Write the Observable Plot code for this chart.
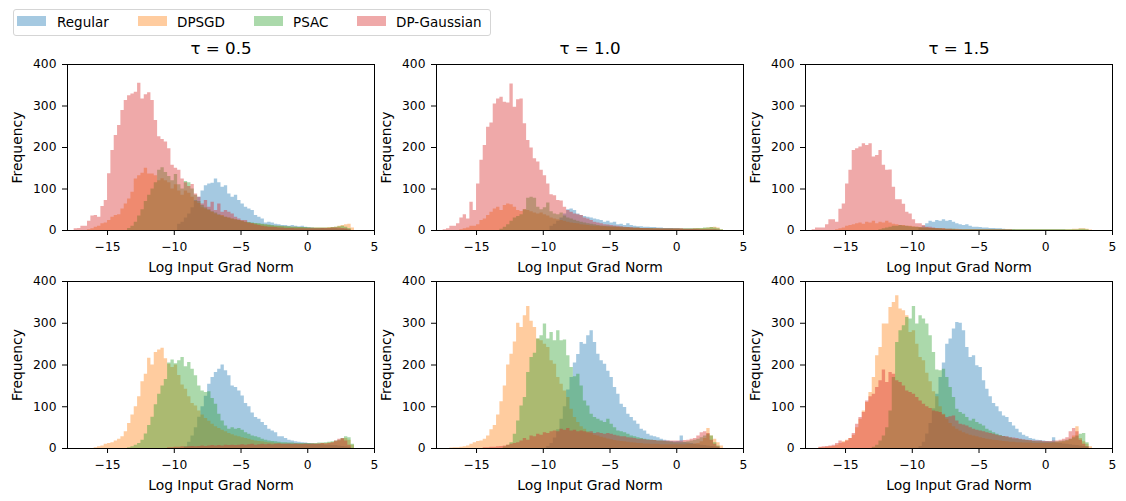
<!DOCTYPE html>
<html><head><meta charset="utf-8">
<script src="https://cdn.jsdelivr.net/npm/d3@7"></script>
<script src="https://cdn.jsdelivr.net/npm/@observablehq/plot@0.6"></script>
<style>
body{margin:0;background:#fff;}
#fig{position:relative;width:1126px;height:501px;background:#fff;font-family:"DejaVu Sans",sans-serif;overflow:hidden;}
.panel{position:absolute;}
#legend{position:absolute;left:13px;top:9px;width:476px;height:25px;border:1px solid #d5d5d5;border-radius:3px;background:rgba(255,255,255,0.8);z-index:5;}
.sw{position:absolute;top:6px;width:29px;height:10px;}
.lt{position:absolute;top:3px;font-size:13.5px;line-height:18px;color:#000;white-space:nowrap;}
</style></head><body><div id="fig"><div id="legend"></div></div>
<script>
// ---- data ----
const seriesNames = ["Regular", "DPSGD", "PSAC", "DP-Gaussian"];
const seriesColors = ["#1f77b4", "#ff7f0e", "#2ca02c", "#d62728"];
const tauLabels = ["τ = 0.5", "τ = 1.0", "τ = 1.5"];
const xTicks = [-15, -10, -5, 0, 5];
const yTicks = [0, 100, 200, 300, 400];
const binWidth = 0.25;

// row 1 (top), tau = 0.5
const r1t05Regular = {start: -9.75, counts: [15,20,30,40,55,72,80,95,108,112,114,124,115,104,108,88,80,85,72,64,56,52,48,36,32,28,18,20,18,15,14,12,12,10,12,10,9,10,8,7,6,5,5,5,4,4,4,4,3,3,3,2]};
const r1t05DPSGD = {start: -16.5, counts: [2,4,8,10,16,18,24,32,36,38,52,64,76,92,124,132,138,150,136,136,132,120,125,120,115,100,110,95,85,95,90,80,70,65,55,52,48,44,40,36,36,32,30,28,26,24,22,20,18,17,16,15,14,13,12,11,10,10,9,9,8,8,8,7,7,6,6,6,6,6,6,6,7,7,8,10,12,14,15,6]};
const r1t05PSAC = {start: -13.5, counts: [5,10,20,35,50,70,85,100,115,145,151,140,130,120,135,110,100,118,115,100,85,70,60,55,50,45,42,38,35,32,30,28,26,24,22,20,19,18,17,16,15,14,13,12,11,10,10,9,9,8,8,7,7,7,6,6,6,6,6,6,6,7,8,9,10,8,5]};
const r1t05DPGaussian = {start: -17.5, counts: [4,5,10,10,22,35,36,32,58,72,137,193,229,253,289,313,325,329,333,355,317,327,332,313,265,226,219,213,197,157,150,145,124,115,106,111,88,80,64,72,56,68,48,64,44,48,44,40,32,28,24,24,18,16,14,12,10,9,8,8,7,6,6,5,5,5,4,4,4,4,4,4,4,4,5,5,5,6,6,6,5,4,2]};

// row 1 (top), tau = 1.0
const r1t10Regular = {start: -9.5, counts: [10,15,22,30,40,50,52,48,40,36,34,32,30,28,26,24,20,22,18,20,14,15,12,16,12,10,9,9,8,8,7,7,6,6,5,5,5,4,4,3,3,3,3,3,2,2,2,2,2,2,1]};
const r1t10DPSGD = {start: -16.25, counts: [2,4,6,10,10,14,24,28,36,44,52,56,48,60,64,62,56,48,46,50,48,45,42,40,42,38,35,30,28,26,24,22,20,18,17,16,14,13,12,11,10,10,9,9,8,8,7,7,6,6,6,5,5,5,5,4,4,4,4,4,3,3,3,3,3,3,3,3,3,3,4,4,4,5,6,7,8,6,2]};
const r1t10PSAC = {start: -13.25, counts: [3,8,14,22,30,34,38,50,78,80,78,56,50,55,66,45,40,38,42,35,30,28,25,22,20,18,16,15,14,12,11,10,10,9,9,8,8,7,7,6,6,6,5,5,5,5,4,4,4,4,4,4,4,4,4,4,4,4,4,5,5,6,6,7,6,4,2]};
const r1t10DPGaussian = {start: -17.5, counts: [2,4,10,10,16,30,38,28,68,48,112,169,205,249,259,305,317,321,309,307,353,297,315,317,257,217,199,173,165,145,132,112,86,84,72,71,56,48,44,40,38,36,30,28,24,20,18,16,14,13,12,11,10,9,8,7,7,6,6,5,5,5,4,4,4,4,4,4,4,4,4,4,3,3,3,3,3,2,2,2,2,2,1]};

// row 1 (top), tau = 1.5
const r1t15Regular = {start: -9.5, counts: [5,10,16,22,20,24,22,26,22,24,20,16,14,12,14,10,8,8,7,6,6,5,5,4,4,3,2,2,2,1,1,1,1,1,1,1,1,1,1,1,1,1,1,1]};
const r1t15DPSGD = {start: -15.75, counts: [2,4,6,10,12,14,16,18,15,20,18,22,16,20,18,22,18,15,14,12,12,10,10,9,8,7,6,6,5,5,4,4,4,3,3,3,3,2,2,2,2,2,2,2,2,2,2,2,2,2,2,2,2,2,2,2,2,2,2,2,2,2,2,2,2,2,2,2,2,2,2,3,3,4,4,3,1]};
const r1t15PSAC = {start: -12.5, counts: [2,4,6,8,10,10,12,11,10,9,8,8,7,6,6,5,5,4,4,3,3,3,3,2,2,2,2,2,2,2,2,2,2,2,2,2,2,2,2,2,2,2,2,2,2,2,2,2,2,2,2,2,2,2,2,2,2,2,2,2,3,3,2]};
const r1t15DPGaussian = {start: -17.5, counts: [2,6,6,6,14,26,26,20,51,64,112,145,193,197,201,209,205,209,177,181,193,157,145,146,104,74,74,63,44,40,26,16,16,12,8,8,6,5,4,4,3,3,2,2,2,1,1,1,1,1,1,1,1,1,1,1,1,1,1,1]};

// row 2 (bottom), tau = 0.5
const r2t05Regular = {start: -9.25, counts: [5,15,30,50,75,100,125,154,170,182,190,200,186,174,150,146,138,126,108,100,85,74,70,62,55,46,42,38,28,28,24,20,18,16,15,14,13,12,11,10,10,9,8,8,7,7,6,5,4,3]};
const r2t05DPSGD = {start: -16, counts: [2,4,6,10,12,14,18,22,28,40,60,80,100,124,160,178,216,200,230,236,240,215,202,194,200,175,152,142,124,108,102,90,80,72,65,58,52,48,44,40,36,33,30,28,26,24,22,20,18,17,16,15,14,13,12,12,11,11,10,10,10,10,10,10,10,10,11,11,12,12,13,14,16,18,22,24,20,8]};
const r2t05PSAC = {start: -13.5, counts: [2,4,8,12,20,35,55,75,105,130,150,165,205,212,203,210,218,196,206,190,174,150,138,134,136,120,106,82,66,54,46,50,46,48,44,38,34,30,28,26,22,20,18,17,16,15,14,14,13,13,12,12,12,12,12,12,12,13,13,14,15,16,18,20,24,28,26,10]};
const r2t05DPGaussian = {start: -10.5, counts: [2,2,3,3,4,3,4,5,4,5,6,5,6,7,6,7,6,8,7,8,7,8,9,8,9,10,8,9,10,9,10,9,10,11,10,10,11,10,11,10,10,11,10,11,10,11,12,11,12,14,18,22,24,18,8]};

// row 2 (bottom), tau = 1.0
const r2t10Regular = {start: -9.75, counts: [5,12,25,45,70,100,140,170,205,225,254,250,270,282,254,226,210,202,185,170,146,130,106,98,82,74,66,58,46,42,34,30,28,26,22,20,18,17,16,17,30,14,13,12,10,9,8,7,6,5,4,3]};
const r2t10DPSGD = {start: -17, counts: [1,2,2,3,4,6,10,14,17,18,22,30,45,55,80,112,150,200,226,255,300,290,318,340,305,290,262,258,250,242,210,202,170,154,138,122,94,74,62,52,46,40,36,32,30,27,25,23,21,19,18,17,16,15,14,13,12,12,11,11,10,10,10,9,9,9,9,9,9,9,9,10,10,11,12,16,24,48,30,22,14,6]};
const r2t10PSAC = {start: -13, counts: [4,8,14,34,66,102,122,182,218,228,262,270,298,262,278,258,282,258,260,222,194,172,178,150,114,102,82,74,70,66,62,70,58,50,42,40,38,34,30,28,26,24,22,21,20,19,18,18,17,16,15,14,14,14,15,16,18,20,22,26,30,34,30,14,6]};
const r2t10DPGaussian = {start: -14.5, counts: [2,2,3,3,4,5,6,8,10,12,14,18,24,20,30,28,34,32,38,36,40,42,40,46,44,48,42,44,40,42,40,38,40,36,38,36,34,36,34,32,30,28,28,26,25,24,22,22,21,20,20,19,18,18,18,18,18,18,18,18,19,20,22,24,30,38,40,36,20,10,4]};

// row 2 (bottom), tau = 1.5
const r2t15Regular = {start: -9.5, counts: [5,15,35,60,95,130,170,205,250,262,286,302,300,282,242,218,222,198,194,162,142,124,108,100,88,78,74,62,54,46,38,32,28,24,22,20,19,18,17,16,26,13,12,11,10,9,8,7,6,5,4]};
const r2t15DPSGD = {start: -17, counts: [2,2,3,4,5,8,12,16,20,24,32,50,70,90,110,134,170,222,242,298,298,338,350,366,334,330,318,278,282,250,218,210,180,160,136,124,100,82,70,60,52,46,42,38,35,32,30,28,26,24,22,21,20,19,18,17,16,15,15,14,14,13,13,13,12,12,12,12,12,12,13,14,15,16,18,22,30,52,24,16,10,4]};
const r2t15PSAC = {start: -13, counts: [3,8,18,30,50,90,170,254,282,294,314,310,340,298,318,310,298,270,230,188,186,190,170,146,122,94,86,82,74,66,70,62,58,54,46,42,38,34,31,29,27,25,23,22,21,20,19,18,17,16,16,15,15,15,15,16,17,18,20,22,26,30,34,36,14]};
const r2t15DPGaussian = {start: -17, counts: [3,4,5,6,8,12,18,14,18,24,36,58,74,86,114,124,130,146,162,188,158,182,178,162,158,150,138,134,130,122,114,106,100,96,90,88,86,80,74,76,78,66,58,56,54,50,46,44,42,40,38,36,34,32,30,29,28,26,25,24,22,21,20,19,18,18,18,17,17,17,18,18,20,22,26,40,48,40,20,10,4]};

const panels = [
  {row: 0, col: 0, title: tauLabels[0], series: [r1t05Regular, r1t05DPSGD, r1t05PSAC, r1t05DPGaussian]},
  {row: 0, col: 1, title: tauLabels[1], series: [r1t10Regular, r1t10DPSGD, r1t10PSAC, r1t10DPGaussian]},
  {row: 0, col: 2, title: tauLabels[2], series: [r1t15Regular, r1t15DPSGD, r1t15PSAC, r1t15DPGaussian]},
  {row: 1, col: 0, title: null, series: [r2t05Regular, r2t05DPSGD, r2t05PSAC, r2t05DPGaussian]},
  {row: 1, col: 1, title: null, series: [r2t10Regular, r2t10DPSGD, r2t10PSAC, r2t10DPGaussian]},
  {row: 1, col: 2, title: null, series: [r2t15Regular, r2t15DPSGD, r2t15PSAC, r2t15DPGaussian]}
];

// ---- layout ----
const colLeft = [67, 436, 805];
const rowTop = [64, 281];
const innerW = 307;
const innerH = [166, 167];
const mL = 67, mR = 14, mT = 30, mB = 50;

function histRows(s) {
  const rows = s.counts.map((c, i) => ({x: s.start + i * binWidth, count: c}));
  rows.push({x: s.start + s.counts.length * binWidth, count: 0});
  return rows;
}

const fig = document.getElementById("fig");

for (const p of panels) {
  const h = innerH[p.row];
  const marks = p.series.map((s, k) => Plot.areaY(histRows(s), {
    x: "x", y1: 0, y2: "count", curve: "step-after",
    fill: seriesColors[k], fillOpacity: 0.4
  }));
  marks.push(Plot.frame({stroke: "black", strokeWidth: 1}));
  marks.push(Plot.text(["Frequency"], {frameAnchor: "left", dx: -50, rotate: -90, textAnchor: "middle", lineAnchor: "middle", fontSize: 13.9, fill: "black"}));
  marks.push(Plot.text(["Log Input Grad Norm"], {frameAnchor: "bottom", dy: 37, textAnchor: "middle", lineAnchor: "middle", fontSize: 13.9, fill: "black"}));
  if (p.title) marks.push(Plot.text([p.title], {frameAnchor: "top", dy: -15.5, textAnchor: "middle", lineAnchor: "middle", fontSize: 16.7, fill: "black"}));
  const chart = Plot.plot({
    width: mL + innerW + mR,
    height: mT + h + mB,
    marginLeft: mL, marginRight: mR, marginTop: mT, marginBottom: mB,
    x: {domain: [-18, 5], ticks: xTicks, tickSize: 5, tickPadding: 6.5, label: null},
    y: {domain: [0, 400], ticks: yTicks, tickSize: 5, tickPadding: 6, label: null},
    style: {background: "none", fontFamily: "DejaVu Sans", fontSize: "12.3px", color: "black", overflow: "visible"},
    marks
  });
  const wrap = document.createElement("div");
  wrap.className = "panel";
  wrap.style.left = (colLeft[p.col] - mL) + "px";
  wrap.style.top = (rowTop[p.row] - mT) + "px";
  wrap.appendChild(chart);
  fig.appendChild(wrap);
}

// ---- legend ----
const legend = document.getElementById("legend");
const swatchX = [3, 124, 240, 343];
const labelX = [43, 163, 279, 382];
seriesNames.forEach((name, k) => {
  const sw = document.createElement("div");
  sw.className = "sw";
  sw.style.left = swatchX[k] + "px";
  sw.style.background = seriesColors[k];
  sw.style.opacity = 0.4;
  legend.appendChild(sw);
  const t = document.createElement("div");
  t.className = "lt";
  t.style.left = labelX[k] + "px";
  t.textContent = name;
  legend.appendChild(t);
});
</script>
</body></html>
